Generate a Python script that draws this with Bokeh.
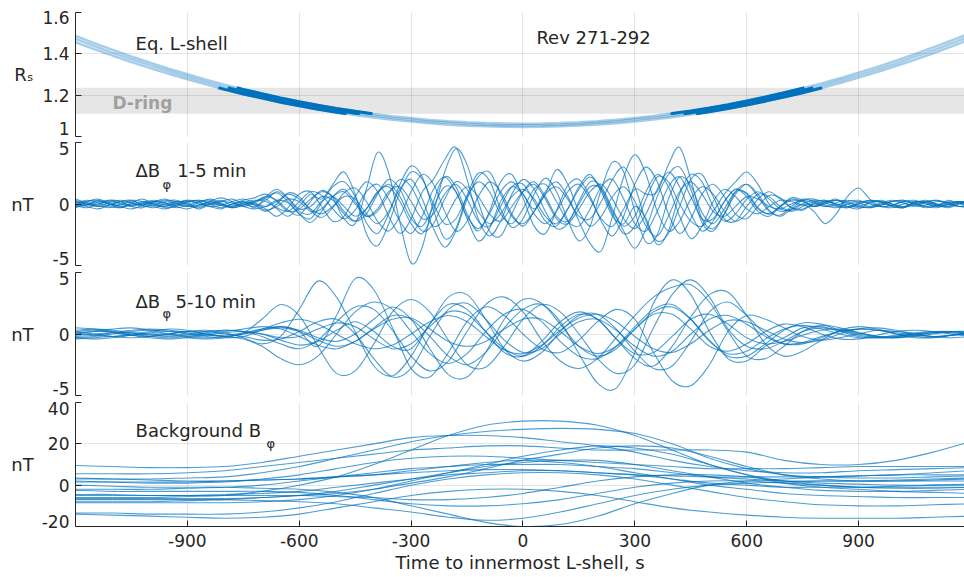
import numpy as np
from bokeh.plotting import figure
from bokeh.layouts import column
from bokeh.models import (FixedTicker, Label, BoxAnnotation, Range1d, CustomJSTickFormatter,
                          ColumnDataSource, LinearAxis)
from bokeh.embed import file_html
from bokeh.resources import INLINE

# ---------------- sample times (s from innermost L-shell) ----------------
T_LSHELL = np.arange(-1200, 1201, 50)
T_DB15 = np.arange(-1200, 1201, 30)
T_DB510 = np.arange(-1200, 1201, 50)
T_BG = np.arange(-1200, 1201, 100)

X_TICKS = [-900, -600, -300, 0, 300, 600, 900]
LS_TICKS = [1.0, 1.2, 1.4, 1.6]
DB_TICKS = [-5, 0, 5]
BG_TICKS = [-20, 0, 20, 40]
DRING = [1.11, 1.236]

LSHELL = [
    [1.487, 1.452, 1.419, 1.387, 1.357, 1.328, 1.301, 1.275, 1.251, 1.228, 1.207, 1.187, 1.168, 1.151, 1.136, 1.122, 1.109,
     1.098, 1.089, 1.080, 1.074, 1.069, 1.065, 1.063, 1.062, 1.063, 1.065, 1.069, 1.074, 1.081, 1.090, 1.099, 1.111,
     1.124, 1.138, 1.154, 1.172, 1.191, 1.212, 1.234, 1.257, 1.282, 1.309, 1.337, 1.367, 1.398, 1.431, 1.465, 1.501],
    [1.472, 1.438, 1.405, 1.374, 1.344, 1.316, 1.289, 1.264, 1.240, 1.217, 1.197, 1.177, 1.159, 1.142, 1.127, 1.113, 1.101,
     1.090, 1.081, 1.072, 1.066, 1.061, 1.057, 1.055, 1.054, 1.055, 1.057, 1.061, 1.066, 1.073, 1.082, 1.091, 1.102,
     1.115, 1.129, 1.145, 1.162, 1.181, 1.202, 1.223, 1.246, 1.271, 1.297, 1.325, 1.354, 1.385, 1.417, 1.451, 1.486],
    [1.456, 1.423, 1.391, 1.360, 1.331, 1.303, 1.277, 1.252, 1.228, 1.206, 1.186, 1.166, 1.149, 1.132, 1.117, 1.104, 1.092,
     1.081, 1.072, 1.064, 1.057, 1.052, 1.049, 1.047, 1.046, 1.047, 1.049, 1.053, 1.058, 1.064, 1.073, 1.082, 1.093,
     1.106, 1.120, 1.135, 1.152, 1.171, 1.191, 1.212, 1.235, 1.259, 1.285, 1.312, 1.341, 1.371, 1.403, 1.436, 1.471],
]

DB15 = [
    [0.2, -0.1, 0.3, 0.0, -0.3, 0.1, 0.4, 0.0, -0.2, 0.2, 0.1, -0.4, 0.0, 0.3, -0.1, 0.2, -0.3,
     0.5, 0.9, 0.2, -0.8, -1.2, 0.1, 1.4, 1.8, 0.6, -1.5, -2.4,
     -0.8, 1.6, 3.1, 2.2, -0.5, -2.8, -2.0, 0.7, 2.5, 1.9, -0.4, -1.9, -1.2,
     0.8, 2.1, 1.0, -1.3, -3.0, -1.8, 1.2, 3.4, 2.6, -0.6, -3.1, -2.5, 0.4,
     2.2, 1.5, -0.7, -1.6, -0.4, 1.0, 0.9, -0.3, -0.8, -0.2, 0.5, 0.3, -0.2,
     0.1, 0.4, -0.2, -0.4, 0.1, 0.3, 0.0, -0.3, 0.2, 0.1, -0.2, 0.3, 0.0, -0.1],
    [-0.2, 0.1, -0.1, 0.3, 0.2, -0.2, -0.3, 0.1, 0.3, 0.0, -0.2, 0.1, 0.4, 0.1, -0.3, -0.1, 0.2,
     0.6, 0.3, -0.5, -0.9, 0.2, 1.1, 0.5, -1.2, -1.6, 1.2, 4.2,
     2.5, -1.5, -4.8, -3.5, 0.2, 2.2, 1.4, -0.8, -2.2, -0.6, 1.8, 2.4, 0.5,
     -1.8, -2.4, -0.5, 1.5, 2.0, 0.6, -1.4, -2.6, -1.0, 1.6, 3.0, 1.8, -0.8,
     -2.4, -1.2, 0.8, 1.6, 0.6, -0.8, -1.2, -0.2, 0.7, 0.5, -0.3, -0.5, 0.1,
     0.3, -0.1, -0.3, 0.0, 0.2, 0.2, -0.2, -0.3, 0.1, 0.3, 0.0, -0.2, 0.1, 0.2],
    [0.3, 0.0, -0.2, -0.1, 0.2, 0.3, -0.1, -0.3, 0.0, 0.2, 0.0, -0.2, 0.2, 0.5, 0.2, -0.2, 0.0,
     -0.4, -1.0, -0.3, 0.8, 1.0, -0.2, -1.4, -1.0, 0.6, 1.8, 1.0,
     -1.0, -2.4, -1.2, 1.0, 2.0, 3.6, 4.6, 2.0, -1.2, -2.6, -1.4, 0.8, 2.0,
     1.2, -0.6, -2.0, -1.6, 0.2, 1.8, 1.4, -0.4, -2.2, -3.6, -2.0, 0.6, 2.4,
     3.0, 1.2, -1.5, -2.2, -0.8, 1.0, 1.6, 0.6, -0.6, -0.9, -0.2, 0.4, 0.2,
     -0.2, 0.1, 0.3, 0.1, -0.2, -0.1, 0.2, 0.3, 0.0, -0.3, -0.1, 0.2, 0.1, -0.1],
    [-0.1, -0.3, 0.0, 0.2, 0.0, -0.2, 0.1, 0.3, 0.1, -0.2, -0.4, -0.1, 0.1, -0.1, -0.3, 0.1, 0.3,
     0.2, -0.3, -0.6, 0.2, 1.0, 0.7, -0.4, -1.2, -0.5, 1.0, 1.6,
     0.4, -1.4, -2.4, -1.0, 1.2, 2.2, 1.0, -1.0, -2.0, -0.8, 1.0, 1.8, 0.8,
     -0.8, -1.6, -0.6, 1.0, 1.6, 0.4, -1.2, -1.8, -0.4, 1.2, 0.8, 1.0, 3.2,
     4.6, 2.0, -1.2, -2.0, -0.8, 0.8, 1.6, 0.8, -0.5, -1.0, -0.4, 0.3, 0.4,
     0.1, -0.2, -0.3, 0.0, 0.3, 0.2, -0.1, -0.2, 0.1, 0.2, -0.1, -0.3, 0.0, 0.2],
    [0.1, 0.2, 0.4, 0.1, -0.2, -0.4, -0.1, 0.2, 0.1, -0.1, 0.2, 0.3, 0.0, -0.3, 0.0, 0.2, -0.1,
     -0.6, 0.0, 0.9, 0.6, -0.5, -1.1, -0.3, 0.9, 1.3, 0.2, -1.4,
     -2.2, -1.0, 1.0, 2.4, 1.6, -0.6, -2.2, -1.4, 0.6, 1.8, 1.0, -0.8, -1.8,
     -0.6, 1.0, 1.8, 0.6, -1.4, -3.2, -3.8, -1.0, 2.2, 4.0, 2.4, -0.6, -2.2,
     -1.4, 0.4, 1.4, 0.8, -0.6, -1.4, -0.8, 0.4, 1.0, 0.4, -0.3, -0.4, 0.0,
     0.2, 0.3, 0.0, -0.3, -0.2, 0.1, 0.3, 0.1, -0.2, -0.1, 0.2, 0.1, -0.2, 0.0],
    [-0.3, 0.0, 0.2, 0.0, -0.1, 0.2, 0.0, -0.2, -0.4, -0.1, 0.2, 0.1, -0.1, 0.2, 0.4, 0.0, -0.2,
     0.3, 1.0, 0.4, -0.6, -0.8, 0.2, 0.6, -0.2, -1.0, -0.4, 0.9,
     1.6, 0.6, -1.2, -1.8, -0.2, 1.4, 1.0, -1.2, -3.0, -2.0, 0.2, 1.4, 0.8,
     -0.4, 0.8, 2.8, 1.6, -0.6, -1.8, -1.0, 0.6, 1.4, 0.2, -1.8, -2.6, -1.0,
     1.0, 1.8, 0.8, -0.6, -1.0, -0.2, 0.6, 0.4, -0.2, -0.4, 0.0, 0.3, 0.1,
     -0.2, -0.1, 0.2, 0.3, 0.0, -0.2, -0.3, 0.0, 0.2, 0.1, -0.1, -0.2, 0.1, 0.2],
    [0.0, 0.3, 0.1, -0.2, -0.3, 0.0, 0.2, 0.1, -0.1, 0.1, 0.3, 0.0, -0.2, -0.4, 0.0, 0.3, 0.5,
     0.8, 0.2, -0.6, -0.4, 0.4, 1.0, 0.6, -0.6, -1.4, -0.8, 0.8,
     2.0, 1.2, -0.8, -2.2, -1.6, 0.4, 1.8, 1.2, -0.6, -1.6, -0.8, 0.6, 1.2,
     0.4, -1.0, -1.6, -0.4, 1.2, 2.2, 1.2, -0.8, -2.4, -1.8, 0.4, 2.2, 1.8,
     0.0, -1.4, -1.8, -0.6, 0.8, 1.8, 2.6, 1.6, 0.0, -0.6, -0.4, 0.0, -0.6,
     -1.6, -0.8, 0.6, 1.3, 0.4, -0.2, -0.1, 0.2, 0.1, -0.2, -0.3, 0.0, 0.2, 0.1],
    [0.2, 0.0, -0.2, 0.1, 0.3, 0.1, -0.2, -0.1, 0.2, 0.3, -0.1, -0.3, 0.0, 0.2, 0.1, -0.2, -0.4,
     -0.2, 0.3, 0.1, -0.8, -1.5, -0.6, 0.6, 1.2, 0.2, -1.0, -0.6,
     0.8, 2.0, 1.4, -0.4, -1.8, -1.2, 0.4, 1.4, 0.6, -0.8, -1.4, -0.2, 1.0,
     1.6, 0.4, -1.2, -1.6, -0.4, 1.0, 1.6, 0.4, -1.2, -2.0, -0.8, 1.2, 2.6,
     1.4, -0.8, -2.2, -1.4, 0.2, 1.2, 0.6, -0.6, -1.0, -0.2, 0.4, 0.2, -0.2,
     0.0, 0.3, 0.2, -0.2, -0.3, 0.0, 0.2, 0.1, -0.1, 0.2, 0.3, 0.0, -0.2, -0.1],
    [-0.2, -0.1, 0.1, 0.3, 0.1, -0.1, 0.0, 0.2, 0.0, -0.3, -0.1, 0.2, 0.3, 0.0, -0.2, 0.0, 0.2,
     0.4, -0.4, -1.0, -0.2, 0.8, 0.4, 1.6, 2.6, 0.8, -2.4, -3.4,
     -1.6, 1.0, 2.6, 2.0, 0.0, -1.6, -1.2, 0.6, 1.8, 1.0, -0.8, -1.6, -0.4,
     1.2, 1.6, 0.2, -1.4, -1.8, -0.4, 1.4, 2.0, 0.4, -1.6, -2.2, -0.6, 1.4,
     2.2, 0.6, -1.2, -1.2, 0.2, 1.2, 0.8, -0.4, -0.8, -0.2, 0.3, 0.2, -0.1,
     0.2, 0.0, -0.2, 0.1, 0.3, 0.1, -0.2, -0.3, 0.0, 0.2, 0.0, -0.1, 0.2, 0.0],
    [0.4, 0.1, -0.1, -0.3, 0.0, 0.3, 0.2, -0.1, -0.2, 0.0, 0.3, 0.2, -0.2, -0.1, 0.2, 0.4, 0.1,
     -0.2, 0.2, 0.8, 0.4, -0.4, -0.8, -0.2, 0.6, 0.4, -0.8, -1.6,
     -0.6, 1.2, 2.0, 0.4, -2.0, -3.5, -2.2, 0.4, 2.2, 2.6, 0.8, -1.0, -1.6,
     -0.6, 0.8, 1.4, 0.4, -1.0, -1.2, 0.2, 2.0, 3.0, 1.4, -1.4, -3.0, -2.4,
     -0.2, 2.0, 2.4, 0.6, -1.2, -1.4, -0.2, 0.8, 0.6, -0.2, -0.6, -0.2, 0.2,
     0.3, 0.0, -0.2, -0.2, 0.1, 0.2, 0.0, -0.2, -0.1, 0.1, 0.3, 0.1, -0.2, -0.3],
    [-0.1, 0.2, 0.3, 0.0, -0.2, -0.1, 0.1, 0.0, -0.3, -0.2, 0.1, 0.3, 0.1, -0.1, -0.3, -0.1, 0.1,
     0.6, 1.2, 0.5, -0.4, -0.2, 0.6, 0.3, -0.8, -1.4, -0.4, 1.0,
     1.4, 0.2, -1.6, -2.4, -0.6, 2.6, 4.5, 3.2, 0.2, -2.2, -2.6, -0.8, 1.0,
     1.8, 0.6, -1.0, -1.4, 0.0, 1.4, 1.2, -0.6, -1.8, -1.0, 1.0, 2.4, 1.4,
     -1.0, -2.8, -1.8, 0.2, 1.2, 0.6, -0.4, -0.8, -0.2, 0.3, 0.2, -0.1, -0.2,
     0.1, 0.3, 0.1, -0.1, -0.3, -0.1, 0.2, 0.3, 0.0, -0.2, -0.1, 0.1, 0.2, 0.0],
    [0.0, -0.2, -0.4, -0.1, 0.2, 0.1, -0.1, 0.2, 0.4, 0.1, -0.2, -0.1, 0.2, 0.0, -0.2, 0.1, 0.0,
     -0.5, -0.2, 0.4, 0.2, -0.6, -0.4, 0.6, 1.0, 0.0, -1.0, -0.4,
     1.0, 1.4, 0.2, -1.2, -0.8, 0.8, 1.6, 0.4, -1.4, -1.8, -0.2, 1.4, 1.6,
     0.2, -1.4, -1.8, -0.4, 1.4, 2.4, 1.0, -1.0, -1.6, -0.2, -1.2, -3.3, -2.2,
     0.8, 2.4, 1.8, -0.2, -1.4, -0.8, 0.4, 1.0, 0.4, -0.4, -0.5, 0.0, 0.3,
     -0.1, -0.3, 0.0, 0.2, 0.1, -0.2, -0.1, 0.2, 0.3, 0.0, -0.2, 0.0, 0.1, -0.2],
]

DB510 = [
    [0.2, 0.3, 0.1, -0.1, -0.2, 0.0, 0.2, 0.3, 0.1, -0.3,
     -0.8, -0.2, 2.0, 4.3, 3.0, 0.2, -2.6, -3.4, -1.8, 0.8, 2.4, 2.0, 0.2, -1.5,
     -1.8, -0.6, 1.0, 1.8, 1.2, -0.4, -1.6, -1.5, -0.2, 1.2, 1.6, 0.8, -0.3, -0.8,
     -0.6, -0.1, 0.3, 0.4, 0.1, -0.2, -0.2, 0.0, 0.1, 0.1, 0.0],
    [-0.3, -0.2, 0.0, 0.2, 0.3, 0.2, 0.0, -0.2, -0.3, -0.2,
     0.3, 0.6, 0.2, -1.0, 1.5, 4.5, 3.6, 0.5, -2.8, -3.5, -1.5, 1.0, 2.2, 1.5,
     0.0, -1.2, -1.5, -0.5, 1.0, 2.0, 1.2, -1.5, -3.8, -4.2, -2.5, 0.2, 1.5, 1.2,
     0.5, -0.2, -0.5, -0.3, 0.0, 0.3, 0.2, 0.0, -0.2, -0.1, 0.1],
    [0.1, -0.1, -0.2, 0.0, 0.2, 0.4, 0.3, 0.0, -0.2, 0.1,
     1.2, 2.4, 1.5, -1.0, -3.2, -3.0, -0.8, 1.8, 2.8, 1.8, -0.5, -2.5, -2.7, -1.0,
     1.2, 2.4, 1.8, 0.0, -2.0, -3.2, -2.5, 0.5, 3.2, 4.4, 3.0, 0.4, -1.0, -1.2,
     -0.6, 0.2, 0.5, 0.3, 0.0, -0.2, -0.3, -0.1, 0.1, 0.2, 0.1],
    [-0.4, -0.3, -0.2, -0.1, 0.0, 0.0, -0.2, -0.3, -0.2, 0.0,
     0.3, 0.5, 0.2, -0.5, -1.0, -0.6, 0.5, 1.5, 1.2, -0.2, -1.8, -2.5, -1.5, 0.5,
     2.0, 2.4, 1.0, -1.6, -4.0, -4.4, -1.5, 2.5, 4.4, 3.2, 0.2, -2.0, -2.2, -1.0,
     -0.3, 0.5, 0.6, 0.2, -0.2, -0.3, -0.2, 0.0, 0.2, 0.2, 0.0],
    [0.3, 0.4, 0.3, 0.1, -0.1, -0.2, -0.1, 0.1, 0.3, 0.2,
     -0.2, -0.8, -1.2, -0.5, 1.0, 2.2, 2.0, 0.3, -1.8, -3.0, -2.2, 0.2, 2.4, 3.0,
     1.8, -0.5, -2.2, -2.8, -2.0, -0.3, 1.5, 3.0, 3.8, 4.0, 2.6, 0.2, -1.8, -2.0,
     -1.0, 0.2, 0.7, 0.5, 0.1, -0.2, -0.3, -0.2, 0.0, 0.2, 0.2],
    [0.0, 0.2, 0.4, 0.5, 0.3, 0.0, -0.3, -0.4, -0.3, 0.0,
     0.4, 0.9, 1.2, 0.8, 0.0, -0.8, -1.2, -0.9, 0.0, 1.0, 1.5, 1.0, -0.2, -1.3,
     -1.6, -0.9, 0.3, 1.3, 1.6, 1.0, -0.2, -1.2, -1.5, -0.8, 0.3, 1.1, 1.0, 0.3,
     -0.4, -0.7, -0.5, 0.0, 0.4, 0.5, 0.3, 0.0, -0.2, -0.3, -0.2],
    [-0.2, -0.1, 0.1, 0.3, 0.4, 0.3, 0.1, -0.1, -0.1, 0.1,
     0.4, 0.6, 0.3, -0.3, -0.6, 0.0, 1.2, 2.2, 1.2, -1.2, -3.3, -3.5, -1.5, 1.2,
     2.8, 2.5, 0.8, -1.0, -1.8, -1.2, 0.4, 1.8, 2.2, 1.2, -0.5, -1.8, -1.8, -0.8,
     0.3, 0.9, 0.8, 0.3, -0.1, -0.3, -0.3, -0.1, 0.1, 0.2, 0.1],
    [0.5, 0.4, 0.2, -0.1, -0.3, -0.4, -0.3, -0.1, 0.1, 0.2,
     0.0, -0.5, -0.9, -0.6, 0.3, 1.0, 0.2, -1.0, -1.2, 0.8, 3.0, 3.2, 1.2, -1.2,
     -2.2, -1.5, 0.2, 1.5, 1.6, 0.4, -1.4, -2.8, -2.6, -0.6, 1.8, 2.6, 1.5, 0.0,
     -0.8, -0.7, -0.2, 0.2, 0.4, 0.3, 0.0, -0.2, -0.3, -0.1, 0.1],
    [-0.1, 0.0, 0.1, 0.1, 0.0, -0.1, 0.0, 0.2, 0.3, 0.2,
     0.0, -0.3, -0.2, 0.4, 0.9, 0.6, -0.4, -1.2, -0.8, 0.6, 1.8, 1.6, 0.2, -1.2,
     -1.8, -1.0, 0.6, 1.6, 1.2, -0.4, -2.0, -2.6, -1.0, 1.4, 3.2, 3.4, 1.5, -0.8,
     -1.8, -1.4, -0.5, 0.3, 0.6, 0.4, 0.0, -0.3, -0.3, -0.1, 0.1],
    [0.2, 0.0, -0.2, -0.3, -0.2, 0.0, 0.2, 0.2, 0.0, -0.2,
     -0.5, -0.4, 0.2, 1.0, 1.2, 0.0, -2.0, -3.5, -2.8, -0.2, 2.0, 2.5, 1.2, -0.5,
     -1.5, -1.2, 0.0, 1.0, 1.2, 0.3, -1.0, -1.8, -1.4, 0.0, 1.2, 1.5, 0.8, -0.2,
     -0.8, -0.8, -0.3, 0.2, 0.4, 0.3, 0.1, -0.1, -0.2, -0.1, 0.0],
    [-0.3, -0.4, -0.3, -0.1, 0.1, 0.2, 0.2, 0.0, -0.2, -0.4,
     -1.0, -2.0, -2.5, -1.8, 0.0, 1.8, 2.6, 2.0, 0.2, -1.6, -2.4, -1.6, 0.2, 1.6,
     2.0, 1.0, -0.6, -1.8, -2.0, -1.0, 0.6, 2.0, 2.4, 1.2, -0.6, -1.6, -1.4, -0.4,
     0.4, 0.7, 0.4, 0.0, -0.3, -0.3, -0.1, 0.1, 0.2, 0.1, 0.0],
    [0.1, 0.2, 0.2, 0.0, -0.2, -0.3, -0.2, 0.0, 0.2, 0.4,
     0.6, 0.4, -0.2, -0.9, -1.2, -0.6, 0.4, 1.2, 1.3, 0.4, -0.6, -1.0, -0.6, 0.4,
     1.2, 1.2, 0.2, -1.0, -1.6, -1.0, 0.4, 1.6, 1.6, 0.4, -1.0, -1.4, -0.8, 0.2,
     0.8, 0.6, 0.0, -0.4, -0.4, -0.1, 0.2, 0.3, 0.2, 0.0, -0.2],
]

BG = [
    [-6, -6, -6, -5.5, -5, -3, 0, 4, 10, 17, 24, 29, 31, 31, 29, 24, 17, 10, 5, 2, 0, -1, -1, -1, -1],
    [3, 3, 3, 3.5, 4, 6, 9, 13, 17, 21, 24, 26, 27, 27.5, 27, 25, 20, 13, 8, 5, 4, 3.5, 3.5, 4, 4.5],
    [9.5, 9, 8.5, 8.5, 9, 11, 14, 17, 20, 23, 24, 24, 23, 21, 19, 16, 12, 9, 7, 6, 6, 7, 7.5, 8, 8.5],
    [5.5, 5.5, 5.5, 6, 7, 9, 11, 13, 15, 17, 18, 19, 19, 18, 17, 17, 17, 17, 16, 12, 10, 10, 12, 16, 21],
    [2, 1.5, 1, 1, 1.5, 3, 5, 8, 11, 13, 14, 14, 13, 12, 11, 10, 9, 8, 8, 8, 8.5, 9, 9, 9, 9],
    [-2, -2, -2, -1.5, -1, 0, 2, 4, 6, 8, 9, 10, 10, 10, 9, 8, 6, 4, 3, 2, 2, 2, 2.5, 3, 3.5],
    [-5, -5, -5, -5, -4.5, -4, -3, -1, 1, 3, 5, 6, 7, 7, 6, 5, 3, 1, 0, -1, -1, -1, -0.5, 0, 0.5],
    [0, -0.5, -1, -1, -1, -1.5, -2, -3.5, -6, -10, -14, -18, -20, -19, -15, -9, -4, 0, 2, 3, 4, 4.5, 5, 5, 5],
    [-7, -7, -7, -7, -7, -7.5, -8, -9, -11, -13, -15.5, -17, -16, -13, -9, -5, -2, 0, 1, 1.5, 2, 2, 2, 2, 2],
    [-14, -14.5, -15, -15.5, -16, -15.5, -14, -11, -8, -5, -3, -2, -2, -3, -5, -8, -11, -13, -14.5, -15.5, -16, -16, -16, -15.5, -15],
    [-13.5, -13.5, -14, -14, -14, -13, -11, -8, -4, 0, 3, 5, 6, 6, 5, 3, 0, -3, -6, -8, -9.5, -10, -10, -9.5, -9],
    [-8, -8, -8, -7.5, -7, -6, -5, -3, 0, 3, 6, 9, 11, 12, 12, 10, 7, 4, 1, -1, -2.5, -3, -3, -2.5, -2],
    [-6.5, -6.5, -6.5, -6.5, -6.5, -6, -5, -4, -2, 1, 4, 8, 12, 15, 18, 19, 18, 14, 9, 5, 3, 2, 2, 2.5, 3],
    [3.5, 3, 2.5, 2, 2, 2.5, 3, 4, 5, 6, 7, 7.5, 7.5, 7, 6, 5, 4.5, 4, 4, 4, 4, 4.5, 5, 6, 7],
    [-2.5, -3, -3, -3, -3, -3, -3.5, -5, -7, -9, -10, -10, -9, -7, -4, -1, 1, 2, 2, 1, 0, -1, -1.5, -1.5, -1],
    [1.5, 1.5, 1.5, 1.5, 2, 2.5, 3, 4, 5, 7, 9, 11, 12, 11, 9, 6, 3, 0, -2, -4, -5, -5.5, -6, -6, -6],
    [-8.5, -8.5, -8.5, -8.5, -8.5, -8, -7, -5, -2, 2, 6, 10, 14, 17, 19, 18, 15, 10, 5, 1, -1, -2, -3, -3.5, -4],
    [-4.5, -4.5, -5, -5, -5, -5, -5, -5.5, -6, -7, -7, -6, -4, -1, 2, 4, 5, 5, 4, 2, 1, 0.5, 0, 0, 0],
]

for name, t, rows in (("LSHELL", T_LSHELL, LSHELL), ("DB15", T_DB15, DB15),
                      ("DB510", T_DB510, DB510), ("BG", T_BG, BG)):
    for k, r in enumerate(rows):
        assert len(r) == len(t), (name, k, len(r), len(t))

FONT = "DejaVu Sans"
INK = "#262626"
BLUE = "#0072BD"
TICK_FS = "17px"
TEXT_FS = "18px"

xr = Range1d(-1200, 1184)
PLAIN = "return String(tick);"
NONE = "return '';"
LOOKUP = """
for (let i = 0; i < pos.length; i++) {
  if (Math.abs(tick - pos[i]) < 1e-6) return txt[i];
}
return '';
"""


def fmt(v):
    return "%g" % v


def make_panel(height, top, bottom, yticks, with_xaxis, unit, unit_standoff,
               top_px=6, bottom_px=7):
    p = figure(width=964, height=height, x_range=xr, y_range=Range1d(yticks[0], yticks[-1]),
               output_backend="svg", toolbar_location=None,
               x_axis_location="below" if with_xaxis else None,
               min_border_left=75, min_border_right=0,
               min_border_top=top, min_border_bottom=bottom)
    p.outline_line_color = None
    p.background_fill_color = "white"
    p.border_fill_color = "white"
    # axis line + inward ticks (no labels)
    ax = p.yaxis[0]
    ax.ticker = FixedTicker(ticks=yticks)
    ax.formatter = CustomJSTickFormatter(code=NONE)
    ax.major_label_standoff = 0
    ax.major_tick_in = 6
    ax.major_tick_out = 0
    ax.minor_tick_line_color = None
    ax.axis_line_color = INK
    ax.major_tick_line_color = INK
    # tick labels: end labels sit just inside the panel, as in the original
    frame_h = height - top - bottom
    per_px = (yticks[-1] - yticks[0]) / frame_h
    pos = [float(v) for v in yticks]
    pos[-1] = yticks[-1] - top_px * per_px
    pos[0] = yticks[0] + bottom_px * per_px
    txt = [fmt(v) for v in yticks]
    lab = LinearAxis(ticker=FixedTicker(ticks=pos),
                     formatter=CustomJSTickFormatter(args=dict(pos=pos, txt=txt), code=LOOKUP))
    lab.axis_line_color = None
    lab.major_tick_line_color = None
    lab.minor_tick_line_color = None
    lab.major_tick_in = 0
    lab.major_tick_out = 0
    lab.major_label_standoff = 6
    lab.major_label_text_font = FONT
    lab.major_label_text_font_size = TICK_FS
    lab.major_label_text_color = INK
    lab.axis_label = unit
    lab.axis_label_orientation = "horizontal"
    lab.axis_label_text_font = FONT
    lab.axis_label_text_font_size = TEXT_FS
    lab.axis_label_text_font_style = "normal"
    lab.axis_label_text_color = INK
    lab.axis_label_standoff = unit_standoff
    p.add_layout(lab, "left")
    p.ygrid.ticker = FixedTicker(ticks=yticks)
    p.xgrid.ticker = FixedTicker(ticks=X_TICKS)
    for g in (p.xgrid[0], p.ygrid[0]):
        g.grid_line_color = INK
        g.grid_line_alpha = 0.12
    return p


def text(p, x, y, s, size=TEXT_FS, color=INK, bold=False):
    p.add_layout(Label(x=x, y=y, text=s, text_align="left", text_baseline="middle",
                       text_font=FONT, text_font_size=size, text_color=color,
                       text_font_style="bold" if bold else "normal"))


def smooth_lines(p, t, rows, **style):
    """Draw each trace through its own sample points as a smooth (Catmull-Rom) curve."""
    t = [float(v) for v in t]
    d = {k: [] for k in ("x0", "y0", "x1", "y1", "cx0", "cy0", "cx1", "cy1")}
    for r in rows:
        n = len(r)
        for i in range(n - 1):
            a, b = max(i - 1, 0), min(i + 2, n - 1)
            d["x0"].append(t[i]); d["y0"].append(r[i])
            d["x1"].append(t[i + 1]); d["y1"].append(r[i + 1])
            d["cx0"].append(t[i] + (t[i + 1] - t[a]) / 6.0)
            d["cy0"].append(r[i] + (r[i + 1] - r[a]) / 6.0)
            d["cx1"].append(t[i + 1] - (t[b] - t[i]) / 6.0)
            d["cy1"].append(r[i + 1] - (r[b] - r[i]) / 6.0)
    p.bezier(x0="x0", y0="y0", x1="x1", y1="y1", cx0="cx0", cy0="cy0", cx1="cx1", cy1="cy1",
             source=ColumnDataSource(d), **style)


def band_runs(t, y, lo, hi):
    t = np.asarray(t, float)
    y = np.asarray(y, float)
    inside = (y >= lo) & (y <= hi)
    xs, ys = [], []
    i, n = 0, len(t)
    while i < n:
        if not inside[i]:
            i += 1
            continue
        j = i
        while j + 1 < n and inside[j + 1]:
            j += 1
        sx = [float(v) for v in t[i:j + 1]]
        sy = [float(v) for v in y[i:j + 1]]
        if i > 0:
            b = hi if y[i - 1] > hi else lo
            f = (b - y[i - 1]) / (y[i] - y[i - 1])
            sx.insert(0, float(t[i - 1] + f * (t[i] - t[i - 1])))
            sy.insert(0, b)
        if j < n - 1:
            b = hi if y[j + 1] > hi else lo
            f = (b - y[j]) / (y[j + 1] - y[j])
            sx.append(float(t[j] + f * (t[j + 1] - t[j])))
            sy.append(b)
        xs.append(sx)
        ys.append(sy)
        i = j + 1
    return xs, ys


WAVE = dict(line_color=BLUE, line_alpha=0.7, line_width=1.1)

# ---------------- panel 1: L-shell ----------------
p1 = make_panel(139, 12, 3, LS_TICKS, False, "R\u209b", 6, top_px=5, bottom_px=8)
p1.add_layout(BoxAnnotation(bottom=DRING[0], top=DRING[1], fill_color="#e6e6e6", fill_alpha=1.0,
                            line_color=None, level="image"))
tl = [float(v) for v in T_LSHELL]
p1.multi_line(xs=[tl] * len(LSHELL), ys=LSHELL, line_color=BLUE, line_alpha=0.35, line_width=2.5)
dxs, dys = [], []
for curve in LSHELL:
    a, b = band_runs(T_LSHELL, curve, DRING[0], DRING[1])
    dxs += a
    dys += b
p1.multi_line(xs=dxs, ys=dys, line_color=BLUE, line_alpha=1.0, line_width=3)
text(p1, -1039, 1.451, "Eq. L-shell")
text(p1, 36, 1.480, "Rev 271-292")
text(p1, -1101, 1.160, "D-ring", size="17px", color="#a0a0a0", bold=True)

# ---------------- panel 2: 1-5 min ----------------
p2 = make_panel(130, 3, 4, DB_TICKS, False, "nT", 16)
smooth_lines(p2, T_DB15, DB15, **WAVE)
text(p2, -1039, 2.74, "ΔB")
text(p2, -967, 1.6, "φ", size="13px")
text(p2, -927, 2.74, "1-5 min")

# ---------------- panel 3: 5-10 min ----------------
p3 = make_panel(130, 3, 4, DB_TICKS, False, "nT", 16)
smooth_lines(p3, T_DB510, DB510, **WAVE)
text(p3, -1039, 2.62, "ΔB")
text(p3, -967, 1.68, "φ", size="13px")
text(p3, -932, 2.62, "5-10 min")

# ---------------- panel 4: background ----------------
p4 = make_panel(178, 3, 51, BG_TICKS, True, "nT", 5, top_px=6, bottom_px=5)
smooth_lines(p4, T_BG, BG, **WAVE)
text(p4, -1039, 26.6, "Background B")
text(p4, -688, 20.1, "φ", size="13px")
xa = p4.xaxis[0]
xa.ticker = FixedTicker(ticks=X_TICKS)
xa.formatter = CustomJSTickFormatter(code=PLAIN)
xa.major_tick_in = 6
xa.major_tick_out = 0
xa.minor_tick_line_color = None
xa.axis_line_color = INK
xa.major_tick_line_color = INK
xa.major_label_text_font = FONT
xa.major_label_text_font_size = TICK_FS
xa.major_label_text_color = INK
xa.major_label_standoff = 7
xa.axis_label = "Time to innermost L-shell, s"
xa.axis_label_text_font = FONT
xa.axis_label_text_font_size = TEXT_FS
xa.axis_label_text_font_style = "normal"
xa.axis_label_text_color = INK
xa.axis_label_standoff = 2

layout = column(p1, p2, p3, p4, spacing=0)
open("out.html", "w").write(file_html(layout, INLINE))
